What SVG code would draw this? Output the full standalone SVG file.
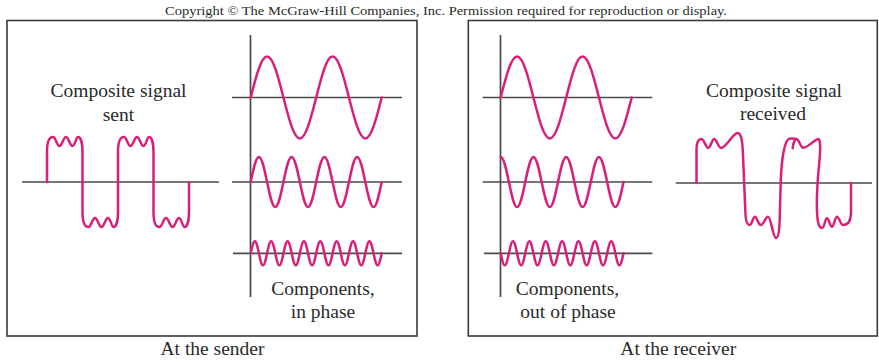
<svg xmlns="http://www.w3.org/2000/svg" width="879" height="362" viewBox="0 0 879 362">
<style>
.box{fill:none;stroke:#3a3a3a;stroke-width:1.6}
.ax{fill:none;stroke:#4a4a4a;stroke-width:1.7}
.sig{fill:none;stroke:#d81f7a;stroke-width:2.5;stroke-linejoin:round;stroke-linecap:round}
.lbl{font-family:"Liberation Serif","Times New Roman",serif;font-size:19.5px;fill:#2a2a2a;text-anchor:middle}
.cp{font-family:"Liberation Serif","Times New Roman",serif;font-size:12.5px;fill:#2a2a2a}
</style>
<rect width="879" height="362" fill="#ffffff"/>
<text class="cp" x="165" y="15" textLength="562" lengthAdjust="spacingAndGlyphs">Copyright © The McGraw-Hill Companies, Inc. Permission required for reproduction or display.</text>

<g id="sender">
<rect class="box" x="7" y="20.5" width="410" height="315.5"/>
<g id="composite-sent">
<line class="ax" x1="22" y1="182" x2="219" y2="182"/>
<path class="sig" d="M47,182 V152 c0,-9 2,-15 6,-15 c2.7,0 3.8,9 6.5,9 c2.7,0 3.8,-9 6.5,-9 c2.7,0 3.8,9 6.5,9 c2.5,0 3.5,-9 5.5,-9 c2.5,0 4.5,6 4.5,15 V212 c0,9 2,15 6,15 c2.7,0 3.8,-9 6.5,-9 c2.7,0 3.8,9 6.5,9 c2.7,0 3.8,-9 6.5,-9 c2.5,0 3.5,9 5.5,9 c2.5,0 4.5,-6 4.5,-15 V152 c0,-9 2,-15 6,-15 c2.7,0 3.8,9 6.5,9 c2.7,0 3.8,-9 6.5,-9 c2.7,0 3.8,9 6.5,9 c2.5,0 3.5,-9 5.5,-9 c2.5,0 4.5,6 4.5,15 V212 c0,9 2,15 6,15 c2.7,0 3.8,-9 6.5,-9 c2.7,0 3.8,9 6.5,9 c2.7,0 3.8,-9 6.5,-9 c2.5,0 3.5,9 5.5,9 c2.5,0 4.5,-6 4.5,-15 V182"/>
<text class="lbl" x="118.5" y="97">Composite signal</text>
<text class="lbl" x="118.5" y="120.5">sent</text>
</g>
<g id="components-in-phase">
<line class="ax" x1="250.5" y1="35" x2="250.5" y2="297"/>
<line class="ax" x1="232" y1="97.5" x2="402" y2="97.5"/>
<line class="ax" x1="232" y1="182" x2="402" y2="182"/>
<line class="ax" x1="233" y1="253.3" x2="402" y2="253.3"/>
<path class="sig" d="M250.7,97.5 c5.34,-21 10.43,-41 16.375,-41 c5.94,0 11.04,20 16.375,41 c5.34,21 10.43,41 16.375,41 c5.94,0 11.04,-20 16.375,-41 c5.34,-21 10.43,-41 16.375,-41 c5.94,0 11.04,20 16.375,41 c5.34,21 10.43,41 16.375,41 c5.94,0 11.04,-20 16.375,-41"/>
<path class="sig" d="M250.7,182 c2.67,-12.8 5.22,-25 8.1875,-25 c2.97,0 5.52,12.2 8.1875,25 c2.67,12.8 5.22,25 8.1875,25 c2.97,0 5.52,-12.2 8.1875,-25 c2.67,-12.8 5.22,-25 8.1875,-25 c2.97,0 5.52,12.2 8.1875,25 c2.67,12.8 5.22,25 8.1875,25 c2.97,0 5.52,-12.2 8.1875,-25 c2.67,-12.8 5.22,-25 8.1875,-25 c2.97,0 5.52,12.2 8.1875,25 c2.67,12.8 5.22,25 8.1875,25 c2.97,0 5.52,-12.2 8.1875,-25 c2.67,-12.8 5.22,-25 8.1875,-25 c2.97,0 5.52,12.2 8.1875,25 c2.67,12.8 5.22,25 8.1875,25 c2.97,0 5.52,-12.2 8.1875,-25"/>
<path class="sig" d="M250.7,253.3 c1.33,-6.14 2.61,-12 4.094,-12 c1.49,0 2.76,5.86 4.094,12 c1.33,6.14 2.61,12 4.094,12 c1.49,0 2.76,-5.86 4.094,-12 c1.33,-6.14 2.61,-12 4.094,-12 c1.49,0 2.76,5.86 4.094,12 c1.33,6.14 2.61,12 4.094,12 c1.49,0 2.76,-5.86 4.094,-12 c1.33,-6.14 2.61,-12 4.094,-12 c1.49,0 2.76,5.86 4.094,12 c1.33,6.14 2.61,12 4.094,12 c1.49,0 2.76,-5.86 4.094,-12 c1.33,-6.14 2.61,-12 4.094,-12 c1.49,0 2.76,5.86 4.094,12 c1.33,6.14 2.61,12 4.094,12 c1.49,0 2.76,-5.86 4.094,-12 c1.33,-6.14 2.61,-12 4.094,-12 c1.49,0 2.76,5.86 4.094,12 c1.33,6.14 2.61,12 4.094,12 c1.49,0 2.76,-5.86 4.094,-12 c1.33,-6.14 2.61,-12 4.094,-12 c1.49,0 2.76,5.86 4.094,12 c1.33,6.14 2.61,12 4.094,12 c1.49,0 2.76,-5.86 4.094,-12 c1.33,-6.14 2.61,-12 4.094,-12 c1.49,0 2.76,5.86 4.094,12 c1.33,6.14 2.61,12 4.094,12 c1.49,0 2.76,-5.86 4.094,-12 c1.33,-6.14 2.61,-12 4.094,-12 c1.49,0 2.76,5.86 4.094,12 c1.33,6.14 2.61,12 4.094,12 c1.49,0 2.76,-5.86 4.094,-12"/>
<text class="lbl" x="323" y="295">Components,</text>
<text class="lbl" x="323" y="317.5">in phase</text>
</g>
<text class="lbl" x="212.5" y="355">At the sender</text>
</g>

<g id="receiver">
<rect class="box" x="468.3" y="20.5" width="409" height="315.5"/>
<g id="components-out-of-phase">
<line class="ax" x1="500.5" y1="35" x2="500.5" y2="297"/>
<line class="ax" x1="482.7" y1="97.5" x2="652.3" y2="97.5"/>
<line class="ax" x1="482.7" y1="182" x2="652.3" y2="182"/>
<line class="ax" x1="484" y1="253.3" x2="652.3" y2="253.3"/>
<path class="sig" d="M500.7,97.5 c5.34,-21 10.43,-41 16.375,-41 c5.94,0 11.04,20 16.375,41 c5.34,21 10.43,41 16.375,41 c5.94,0 11.04,-20 16.375,-41 c5.34,-21 10.43,-41 16.375,-41 c5.94,0 11.04,20 16.375,41 c5.34,21 10.43,41 16.375,41 c5.94,0 11.04,-20 16.375,-41"/>
<path class="sig" d="M500.7,157 c2.97,0 5.52,12.2 8.1875,25 c2.67,12.8 5.22,25 8.1875,25 c2.97,0 5.52,-12.2 8.1875,-25 c2.67,-12.8 5.22,-25 8.1875,-25 c2.97,0 5.52,12.2 8.1875,25 c2.67,12.8 5.22,25 8.1875,25 c2.97,0 5.52,-12.2 8.1875,-25 c2.67,-12.8 5.22,-25 8.1875,-25 c2.97,0 5.52,12.2 8.1875,25 c2.67,12.8 5.22,25 8.1875,25 c2.97,0 5.52,-12.2 8.1875,-25 c2.67,-12.8 5.22,-25 8.1875,-25 c2.97,0 5.52,12.2 8.1875,25 c2.67,12.8 5.22,25 8.1875,25 c2.97,0 5.52,-12.2 8.1875,-25"/>
<path class="sig" d="M500.7,253.3 c1.33,6.14 2.61,12 4.094,12 c1.49,0 2.76,-5.86 4.094,-12 c1.33,-6.14 2.61,-12 4.094,-12 c1.49,0 2.76,5.86 4.094,12 c1.33,6.14 2.61,12 4.094,12 c1.49,0 2.76,-5.86 4.094,-12 c1.33,-6.14 2.61,-12 4.094,-12 c1.49,0 2.76,5.86 4.094,12 c1.33,6.14 2.61,12 4.094,12 c1.49,0 2.76,-5.86 4.094,-12 c1.33,-6.14 2.61,-12 4.094,-12 c1.49,0 2.76,5.86 4.094,12 c1.33,6.14 2.61,12 4.094,12 c1.49,0 2.76,-5.86 4.094,-12 c1.33,-6.14 2.61,-12 4.094,-12 c1.49,0 2.76,5.86 4.094,12 c1.33,6.14 2.61,12 4.094,12 c1.49,0 2.76,-5.86 4.094,-12 c1.33,-6.14 2.61,-12 4.094,-12 c1.49,0 2.76,5.86 4.094,12 c1.33,6.14 2.61,12 4.094,12 c1.49,0 2.76,-5.86 4.094,-12 c1.33,-6.14 2.61,-12 4.094,-12 c1.49,0 2.76,5.86 4.094,12 c1.33,6.14 2.61,12 4.094,12 c1.49,0 2.76,-5.86 4.094,-12 c1.33,-6.14 2.61,-12 4.094,-12 c1.49,0 2.76,5.86 4.094,12 c1.33,6.14 2.61,12 4.094,12 c1.49,0 2.76,-5.86 4.094,-12"/>
<text class="lbl" x="567.5" y="295">Components,</text>
<text class="lbl" x="568" y="317.5">out of phase</text>
</g>
<g id="composite-received">
<line class="ax" x1="675.7" y1="183" x2="872" y2="183"/>
<path class="sig" d="M696.5,183 V150 C696.5,143 698,139 701.5,139 C704,139 706,148 708.3,148 C710.5,148 712,139 714.3,139 C716.5,139 718.5,148 721,148 C726,148 733,133 737.5,133 C741,133 742.5,140 743,155 L745.5,215 C746,222 747,225 749.5,225 C752,225 753,216.7 755,216.7 C757,216.7 758,225 761,225 C763.5,225 765.5,216.7 768,216.7 C771,216.7 773,238 776,238 C778.5,238 779.5,230 779.8,215 L780.8,180 C781.5,160 784.5,138.5 790,138.5 C793,138.5 795,138.5 796.5,139 C799,139 800.5,147.7 803.3,147.7 C808,147.7 815,139 818.5,139 C820.5,139 820.5,150 819.5,160 C817,185 816,210 818,222 C819,227 820.5,228 822,228 C824.5,228 825,218.3 827,218.3 C829,218.3 830,226.7 832,226.7 C834,226.7 835,216.7 837,216.7 C839,216.7 840.5,225 843,225 C847,225 851,222 851,212 V183 M792.7,148.3 C793,144 794,141 796,139"/>
<text class="lbl" x="774" y="97">Composite signal</text>
<text class="lbl" x="773" y="120">received</text>
</g>
<text class="lbl" x="678.3" y="355">At the receiver</text>
</g>
</svg>
